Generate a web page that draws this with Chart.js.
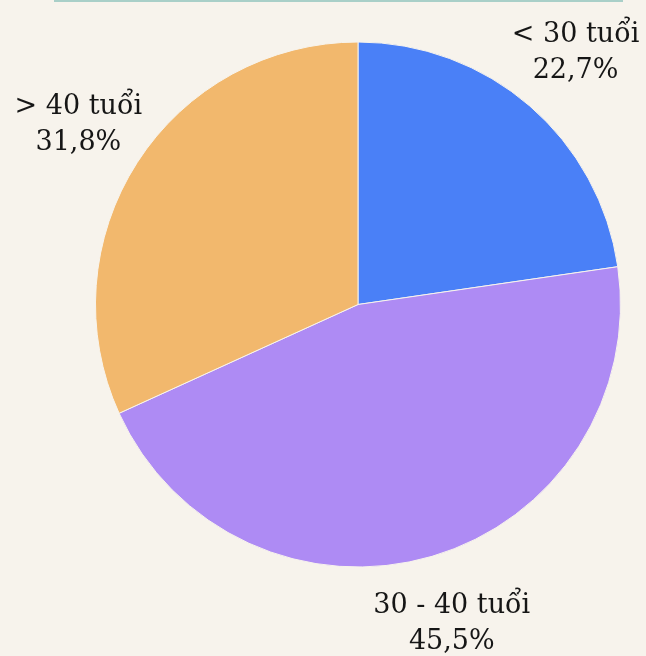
<!DOCTYPE html>
<html>
<head>
<meta charset="utf-8">
<script src="https://cdn.jsdelivr.net/npm/chart.js@4"></script>
<style>
  html, body { margin: 0; padding: 0; background: #f7f3ec; }
  #wrap { position: relative; width: 646px; height: 656px; }
  #topline { position: absolute; left: 54px; top: 0; width: 569px; height: 2px; background: #a9cfc8; }
  canvas { position: absolute; left: 0; top: 0; }
</style>
</head>
<body>
<div id="wrap">
  <div id="topline"></div>
  <canvas id="c" width="646" height="656"></canvas>
</div>
<script>
const categories = ['< 30 tuổi', '30 - 40 tuổi', '> 40 tuổi'];
const values = [22.7, 45.5, 31.8];
const percentLabels = ['22,7%', '45,5%', '31,8%'];
const colors = ['#4a80f7', '#ae8bf4', '#f2b86d'];

const outsideLabels = {
  id: 'outsideLabels',
  afterDatasetsDraw(chart) {
    const ctx = chart.ctx;
    const meta = chart.getDatasetMeta(0);
    ctx.save();
    ctx.fillStyle = '#161616';
    ctx.font = '27px "DejaVu Serif", serif';
    ctx.textAlign = 'center';
    ctx.textBaseline = 'middle';
    meta.data.forEach((arc, i) => {
      const mid = (arc.startAngle + arc.endAngle) / 2;
      const r = arc.outerRadius + 70;
      const x = arc.x + Math.cos(mid) * r;
      const y = arc.y + Math.sin(mid) * r;
      ctx.fillText(chart.data.labels[i], x, y - 18);
      ctx.fillText(percentLabels[i], x, y + 18);
    });
    ctx.restore();
  }
};

new Chart(document.getElementById('c'), {
  type: 'pie',
  data: {
    labels: categories,
    datasets: [{
      data: values,
      backgroundColor: colors,
      borderColor: '#f7f3ec',
      borderWidth: 1
    }]
  },
  options: {
    responsive: false,
    animation: false,
    layout: { padding: { top: 41, bottom: 88, left: 95, right: 25 } },
    plugins: {
      legend: { display: false },
      tooltip: { enabled: false }
    }
  },
  plugins: [outsideLabels]
});
</script>
</body>
</html>
